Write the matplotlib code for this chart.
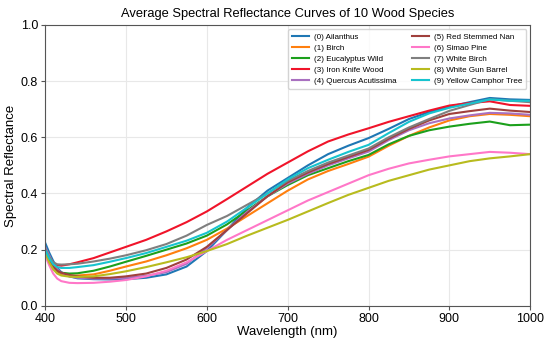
# Average spectral reflectance curves for 10 wood species

import numpy as np
import matplotlib.pyplot as plt

plt.rcParams['font.family'] = ['Liberation Sans', 'DejaVu Sans']

# Wavelengths (nm)
wl = [400, 405, 410, 415, 420, 430, 440, 460, 480, 500, 525, 550, 575, 600, 625,
      650, 675, 700, 725, 750, 775, 800, 825, 850, 875, 900, 925, 950, 975, 1000]

# Reflectance per species
ailanthus = [.225, .19, .16, .135, .12, .105, .098, .095, .094, .095, .10, .112, .14, .195, .27,
             .35, .41, .455, .50, .54, .57, .597, .63, .665, .69, .709, .725, .74, .735, .733]
birch = [.19, .16, .135, .12, .112, .108, .108, .112, .125, .14, .158, .18, .205, .235, .275,
         .32, .365, .41, .45, .48, .505, .531, .57, .605, .635, .66, .675, .683, .68, .675]
eucalyptus = [.20, .165, .14, .125, .118, .115, .116, .125, .14, .157, .178, .20, .222, .25, .29,
              .34, .39, .43, .465, .49, .515, .537, .575, .605, .625, .638, .648, .656, .643, .645]
iron_knife = [.20, .17, .152, .145, .143, .148, .155, .17, .19, .21, .235, .265, .298, .336, .38,
              .425, .47, .51, .55, .585, .61, .632, .655, .675, .695, .713, .722, .728, .715, .712]
quercus = [.21, .18, .15, .13, .118, .105, .10, .097, .097, .10, .107, .12, .15, .205, .27,
           .335, .39, .435, .47, .50, .525, .549, .59, .625, .65, .667, .678, .687, .685, .68]
red_nan = [.20, .165, .14, .125, .118, .11, .105, .10, .10, .105, .115, .135, .165, .21, .27,
           .33, .39, .44, .475, .505, .53, .555, .595, .63, .66, .683, .693, .702, .695, .69]
simao = [.18, .145, .115, .097, .088, .082, .081, .082, .086, .092, .105, .125, .155, .195, .235,
         .27, .305, .34, .375, .405, .435, .465, .488, .507, .52, .532, .54, .548, .545, .54]
white_birch = [.205, .175, .155, .148, .147, .148, .15, .158, .168, .18, .198, .22, .25, .288, .32,
               .36, .40, .445, .48, .51, .535, .56, .60, .635, .665, .694, .715, .735, .73, .725]
gun_barrel = [.19, .155, .13, .115, .108, .104, .103, .105, .113, .123, .138, .155, .173, .195, .22,
              .25, .278, .306, .336, .366, .395, .42, .445, .465, .485, .50, .515, .525, .532, .54]
camphor = [.20, .17, .148, .138, .135, .135, .138, .145, .157, .17, .188, .21, .232, .26, .30,
           .35, .40, .45, .49, .52, .548, .573, .615, .655, .685, .705, .72, .735, .73, .73]

names = ['(0) Ailanthus', '(1) Birch', '(2) Eucalyptus Wild', '(3) Iron Knife Wood',
         '(4) Quercus Acutissima', '(5) Red Stemmed Nan', '(6) Simao Pine',
         '(7) White Birch', '(8) White Gun Barrel', '(9) Yellow Camphor Tree']
series = [ailanthus, birch, eucalyptus, iron_knife, quercus, red_nan, simao,
          white_birch, gun_barrel, camphor]
colors = ['#1f77b4', '#ff7f0e', '#1ca01c', '#f0142a', '#a970c0', '#a0403c', '#ff77c8',
          '#7f7f7f', '#b8bb1e', '#17c4cf']

fig = plt.figure(figsize=(5.5, 3.46), dpi=100)
ax = fig.add_axes([0.082, 0.116, 0.882, 0.812])

for y, name, c in zip(series, names, colors):
    ax.plot(wl, y, color=c, lw=1.5, label=name)

ax.set_xlim(400, 1000)
ax.set_ylim(0, 1.0)
ax.set_xticks([400, 500, 600, 700, 800, 900, 1000])
ax.set_yticks([0.0, 0.2, 0.4, 0.6, 0.8, 1.0])
ax.grid(True, color='#e8e8e8', lw=0.8)
ax.set_axisbelow(True)
for s in ax.spines.values():
    s.set_color('#555555')
ax.tick_params(labelsize=9, color='#555555', length=3, pad=2)
ax.set_xlabel('Wavelength (nm)', fontsize=9.5, labelpad=1)
ax.set_ylabel('Spectral Reflectance', fontsize=9.5, labelpad=3)
ax.set_title('Average Spectral Reflectance Curves of 10 Wood Species', fontsize=9.3, pad=6)
ax.legend(ncol=2, fontsize=5.8, loc='upper right', handlelength=2.1, handletextpad=0.6,
          columnspacing=1.9, labelspacing=0.42, borderpad=0.5, fancybox=True,
          edgecolor='#cccccc')

fig.savefig('out.png', dpi=100)
